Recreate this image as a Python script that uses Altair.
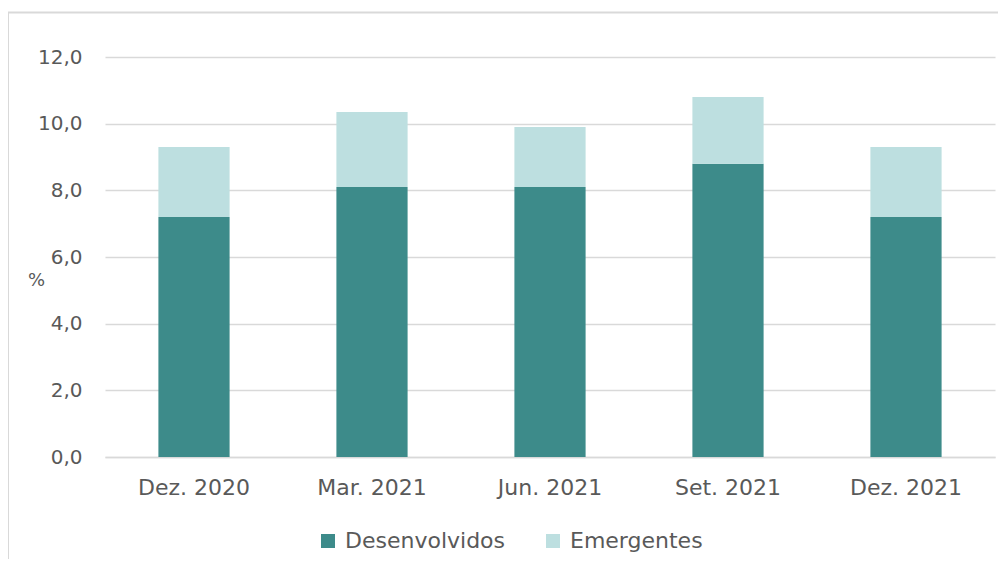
import altair as alt
import pandas as pd

periods = ["Dez. 2020", "Mar. 2021", "Jun. 2021", "Set. 2021", "Dez. 2021"]
desenvolvidos = [7.2, 8.1, 8.1, 8.8, 7.2]
emergentes = [2.1, 2.25, 1.8, 2.0, 2.1]
series = ["Desenvolvidos", "Emergentes"]
colors = ["#3d8b8a", "#bddfe0"]
y_ticks = [0, 2, 4, 6, 8, 10, 12]

rows = []
for p, d, e in zip(periods, desenvolvidos, emergentes):
    rows.append({"periodo": p, "serie": series[0], "valor": d, "ordem": 0})
    rows.append({"periodo": p, "serie": series[1], "valor": e, "ordem": 1})
df = pd.DataFrame(rows)

FONT = "DejaVu Sans"
TXT = "#595959"
GRID = "#d9d9d9"

bars = alt.Chart(df).mark_bar().encode(
    x=alt.X("periodo:N", sort=periods,
            scale=alt.Scale(paddingInner=0.6, paddingOuter=0.3),
            axis=alt.Axis(title=None, labelAngle=0, labelFontSize=22, labelColor=TXT,
                          labelFont=FONT, labelPadding=20, ticks=False,
                          domainColor=GRID, domainWidth=1.5)),
    y=alt.Y("valor:Q", stack="zero",
            scale=alt.Scale(domain=[0, 12], nice=False),
            axis=alt.Axis(values=y_ticks, title="%", titleAngle=0, titleX=-69, titleY=223,
                          titleAlign="center", titleBaseline="middle", titleFontSize=18,
                          titleFontWeight="normal", titleColor=TXT, titleFont=FONT,
                          labelExpr="replace(format(datum.value, '.1f'), '.', ',')",
                          labelFontSize=20, labelColor=TXT, labelFont=FONT,
                          labelPadding=23, ticks=False, domain=False,
                          gridColor=GRID, gridWidth=1.5)),
    color=alt.Color("serie:N", scale=alt.Scale(domain=series, range=colors),
                    legend=alt.Legend(title=None, orient="none", direction="horizontal",
                                      legendX=212, legendY=473, symbolType="square",
                                      symbolSize=196, symbolStrokeWidth=0,
                                      labelFontSize=22, labelColor=TXT, labelFont=FONT,
                                      labelLimit=400, labelOffset=6, columnPadding=36)),
    order=alt.Order("ordem:Q"),
)

one = alt.Data(values=[{}])
border_left = alt.Chart(one).mark_rule(color=GRID, strokeWidth=2).encode(
    x=alt.value(-97), y=alt.value(-44.5), y2=alt.value(510))
border_top = alt.Chart(one).mark_rule(color=GRID, strokeWidth=2).encode(
    x=alt.value(-97), x2=alt.value(900), y=alt.value(-44.5))

chart = alt.layer(border_left, border_top, bars).properties(
    width=890, height=400,
    autosize=alt.AutoSizeParams(type="none"),
    padding={"left": 97, "top": 49, "right": 3, "bottom": 102},
).configure_view(stroke=None)

chart.save("out.html", embed_options={"renderer": "svg", "actions": False})
